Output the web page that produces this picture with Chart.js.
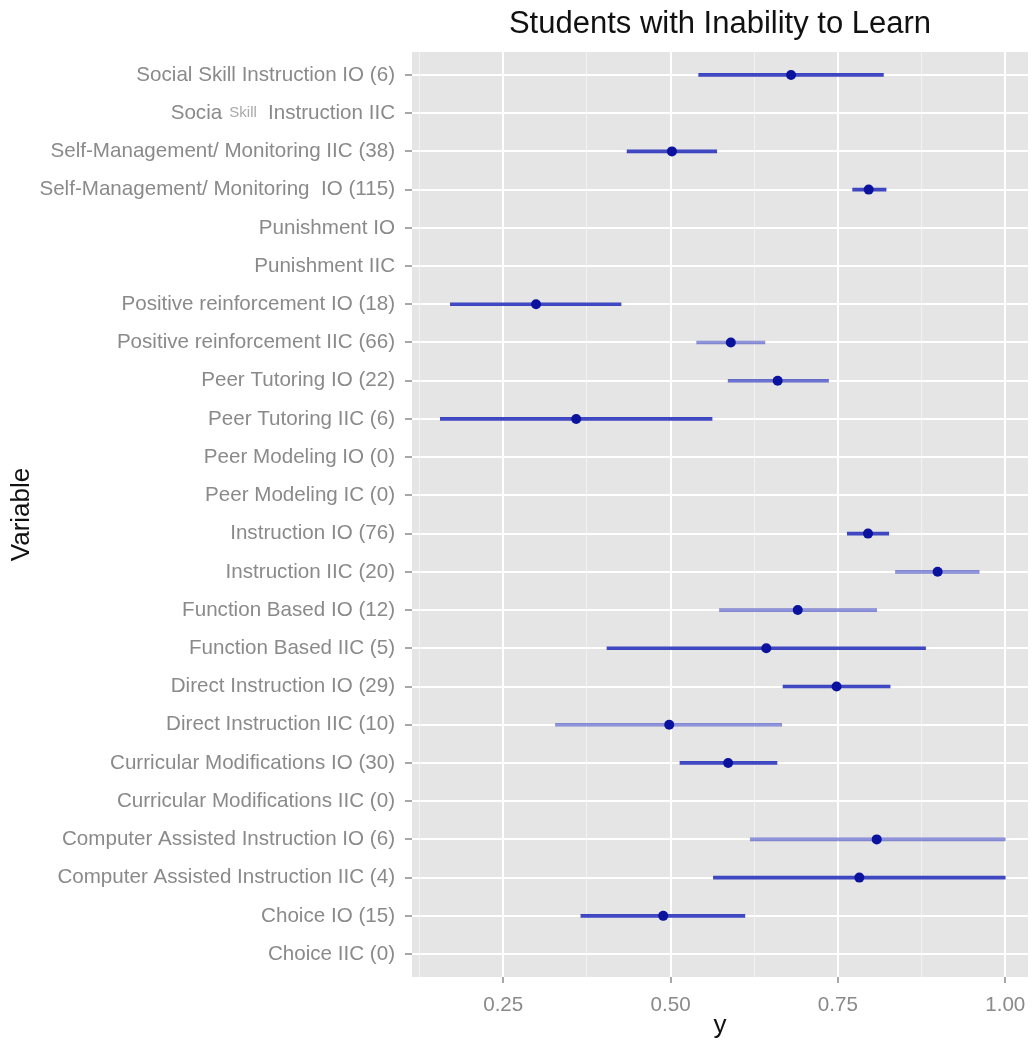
<!DOCTYPE html>
<html><head><meta charset="utf-8">
<script src="https://cdn.jsdelivr.net/npm/chart.js@4.4.1/dist/chart.umd.min.js"></script>
<style>html,body{margin:0;padding:0;background:#fff}</style>
</head><body>
<canvas id="c" width="1033" height="1041"></canvas>
<script>
// ---- data (top row first) ----
const categories = [
  "Social Skill Instruction IO (6)",
  "Socia Skill Instruction IIC",
  "Self-Management/ Monitoring IIC (38)",
  "Self-Management/ Monitoring  IO (115)",
  "Punishment IO",
  "Punishment IIC",
  "Positive reinforcement IO (18)",
  "Positive reinforcement IIC (66)",
  "Peer Tutoring IO (22)",
  "Peer Tutoring IIC (6)",
  "Peer Modeling IO (0)",
  "Peer Modeling IC (0)",
  "Instruction IO (76)",
  "Instruction IIC (20)",
  "Function Based IO (12)",
  "Function Based IIC (5)",
  "Direct Instruction IO (29)",
  "Direct Instruction IIC (10)",
  "Curricular Modifications IO (30)",
  "Curricular Modifications IIC (0)",
  "Computer Assisted Instruction IO (6)",
  "Computer Assisted Instruction IIC (4)",
  "Choice IO (15)",
  "Choice IIC (0)"
];
const estimates = [0.680, null, 0.502, 0.796, null, null, 0.299, 0.590, 0.660, 0.359, null, null,
                   0.795, 0.899, 0.690, 0.643, 0.748, 0.498, 0.586, null, 0.808, 0.782, 0.489, null];
const lower     = [0.542, null, 0.435, 0.772, null, null, 0.171, 0.539, 0.586, 0.156, null, null,
                   0.764, 0.836, 0.573, 0.405, 0.668, 0.328, 0.514, null, 0.619, 0.564, 0.366, null];
const upper     = [0.818, null, 0.569, 0.822, null, null, 0.426, 0.641, 0.736, 0.562, null, null,
                   0.826, 0.961, 0.808, 0.881, 0.828, 0.666, 0.659, null, 1.000, 1.000, 0.611, null];
const xTickLabels = ["0.25", "0.50", "0.75", "1.00"];
const titleText = "Students with Inability to Learn";
const xTitle = "y";
const yTitle = "Variable";

// ---- styles ----
const intervalOpacity = [0.85,0,0.85,0.85,0,0,0.85,0.5,0.65,0.85,0,0,0.85,0.5,0.5,0.85,0.85,0.5,0.85,0,0.5,0.85,0.85,0];
const FONT = "'Liberation Sans', Arial, Helvetica, sans-serif";
const TICK_GREY = '#8a8a8a';
const TICK_SIZE = 20.6;

// split label (small overlapping word in row 1)
const specialIdx = 1;
const specialLeft = "Socia", specialSmall = "Skill", specialRight = "Instruction IIC";
function tickText(i) {
  if (i === specialIdx) return specialLeft + "        " + specialRight;
  return categories[i];
}

const barData = [];
const pointData = [];
const barColors = [];
categories.forEach((c, i) => {
  if (estimates[i] !== null) {
    barData.push({ x: [lower[i], upper[i]], y: i });
    barColors.push(`rgba(30,40,185,${intervalOpacity[i]})`);
    pointData.push({ x: estimates[i], y: i });
  }
});

const panelBg = {
  id: 'panelBg',
  beforeDraw(chart) {
    const { ctx, chartArea: a } = chart;
    ctx.save();
    ctx.fillStyle = '#E5E5E5';
    ctx.fillRect(a.left, a.top, a.right - a.left, a.bottom - a.top);
    ctx.restore();
  },
  afterDraw(chart) {
    const { ctx } = chart;
    const ys = chart.scales.y;
    const y = ys.getPixelForValue(specialIdx);
    const right = chart.chartArea.left - 17;
    ctx.save();
    ctx.font = `${TICK_SIZE}px ${FONT}`;
    const wRight = ctx.measureText(specialRight).width;
    const wSp = ctx.measureText("        ").width;
    const cx = right - wRight - wSp / 2;
    ctx.font = `15px ${FONT}`;
    ctx.fillStyle = '#a8a8a8';
    ctx.textAlign = 'center';
    ctx.textBaseline = 'middle';
    ctx.fillText(specialSmall, cx - 2, y);
    ctx.restore();
  }
};

new Chart(document.getElementById('c'), {
  type: 'bar',
  data: {
    datasets: [
      {
        type: 'bar',
        indexAxis: 'y',
        data: barData,
        backgroundColor: barColors,
        borderWidth: 0,
        barThickness: 3,
        xAxisID: 'x', yAxisID: 'y',
        order: 2
      },
      {
        type: 'scatter',
        data: pointData,
        backgroundColor: '#0a129e',
        borderColor: '#0a129e',
        pointRadius: 5,
        pointBorderWidth: 0,
        showLine: false,
        xAxisID: 'x', yAxisID: 'y',
        order: 1
      }
    ]
  },
  options: {
    responsive: false,
    devicePixelRatio: 1,
    animation: false,
    layout: { padding: 0 },
    plugins: {
      legend: { display: false },
      tooltip: { enabled: false },
      title: {
        display: true,
        text: titleText,
        fullSize: false,
        color: '#111',
        font: { family: FONT, size: 31, weight: 'normal', lineHeight: 1.2 },
        padding: { top: 6, bottom: 8.8 }
      }
    },
    scales: {
      x: {
        type: 'linear',
        position: 'bottom',
        offset: false,
        min: 0.1137,
        max: 1.034,
        border: { display: false },
        afterFit(s) { s.height = 64; s.paddingLeft = 0; s.paddingRight = 0; },
        ticks: {
          stepSize: 0.125,
          includeBounds: false,
          autoSkip: false,
          maxRotation: 0,
          padding: 10,
          color: TICK_GREY,
          font: { family: FONT, size: TICK_SIZE },
          callback(v) {
            const k = Math.round(v / 0.25);
            if (Math.abs(v - k * 0.25) > 1e-6) return '';
            return xTickLabels[k - 1] ?? '';
          }
        },
        grid: {
          offset: false,
          color(ctx) {
            const v = ctx.tick ? ctx.tick.value : 0;
            return Math.abs(v / 0.25 - Math.round(v / 0.25)) < 1e-6 ? '#FFFFFF' : '#F2F2F2';
          },
          lineWidth(ctx) {
            const v = ctx.tick ? ctx.tick.value : 0;
            return Math.abs(v / 0.25 - Math.round(v / 0.25)) < 1e-6 ? 2 : 1;
          },
          tickColor(ctx) {
            const v = ctx.tick ? ctx.tick.value : 0;
            return Math.abs(v / 0.25 - Math.round(v / 0.25)) < 1e-6 ? '#8a8a8a' : 'rgba(0,0,0,0)';
          },
          tickLength: 6,
          tickWidth: 1.5
        },
        title: {
          display: true,
          text: xTitle,
          color: '#111',
          font: { family: FONT, size: 26 },
          padding: { top: 0, bottom: 0 }
        }
      },
      y: {
        type: 'linear',
        position: 'left',
        offset: false,
        reverse: true,
        min: -0.6,
        max: 23.6,
        border: { display: false },
        afterFit(s) { s.width = 412; s.paddingTop = 0; s.paddingBottom = 0; },
        ticks: {
          stepSize: 1,
          includeBounds: false,
          autoSkip: false,
          padding: 10,
          color: TICK_GREY,
          font: { family: FONT, size: TICK_SIZE },
          callback(v) {
            const i = Math.round(v);
            return (i >= 0 && i < categories.length) ? tickText(i) : '';
          }
        },
        grid: {
          offset: false,
          color: '#FFFFFF',
          lineWidth: 2,
          tickColor: '#8a8a8a',
          tickLength: 7,
          tickWidth: 1.5
        },
        title: {
          display: true,
          text: yTitle,
          color: '#111',
          font: { family: FONT, size: 26 },
          padding: { top: 6, bottom: 0 }
        }
      }
    }
  },
  plugins: [panelBg]
});
</script>
</body></html>
